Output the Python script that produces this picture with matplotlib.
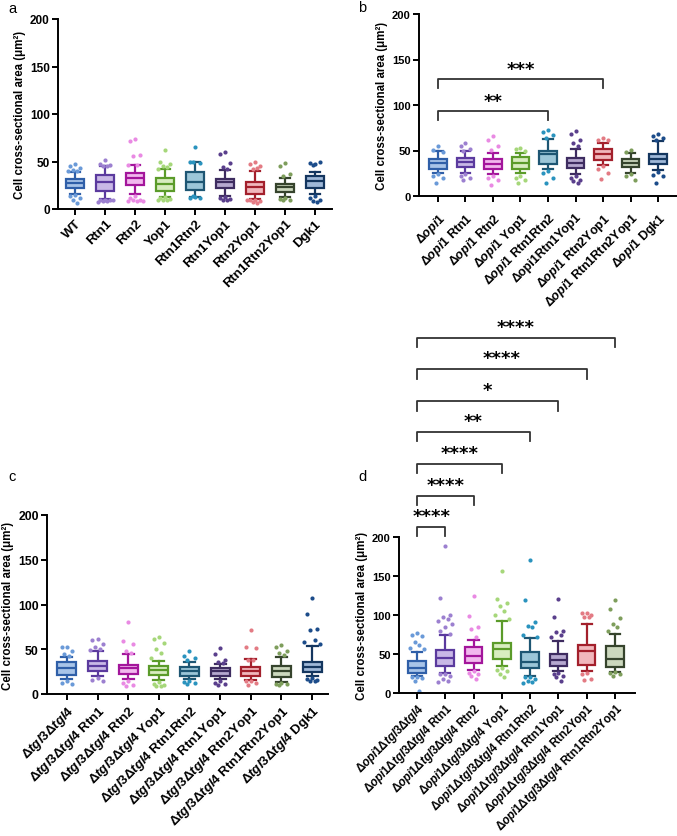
import numpy as np
import matplotlib
matplotlib.use("Agg")
import matplotlib.pyplot as plt

plt.rcParams['font.family'] = ['Liberation Sans', 'DejaVu Sans']
plt.rcParams['mathtext.fontset'] = 'custom'
plt.rcParams['mathtext.rm'] = 'Liberation Sans:bold'
plt.rcParams['mathtext.it'] = 'Liberation Sans:italic:bold'
plt.rcParams['mathtext.bf'] = 'Liberation Sans:bold'

# colours per genotype (edge, fill, dots)
edge = ['#2F5FA8', '#5B3A9E', '#A3169B', '#5B9B2A', '#1E5673', '#3E2C60', '#A3202C', '#36442D', '#14365F']
face = ['#A8C4E8', '#C9B8E6', '#F2B8EE', '#D8EDC0', '#9CC6D8', '#B6A8CF', '#F1B7BC', '#CCD8BE', '#9FB8D8']
dots = ['#6A9AD8', '#9C80D0', '#E98AE3', '#A6D77A', '#2A93BE', '#5A3F8C', '#E37B84', '#7E9E5C', '#1C4C8A']

# ---- panel a
a_labels = ['WT', 'Rtn1', 'Rtn2', 'Yop1', 'Rtn1Rtn2', 'Rtn1Yop1', 'Rtn2Yop1', 'Rtn1Rtn2Yop1', 'Dgk1']
a_q1 = [21.8, 19.3, 25, 19.3, 20.4, 21.8, 15.8, 18.2, 21.8]
a_med = [27, 28, 32.6, 26.3, 28, 28, 23, 23, 30]
a_q3 = [31.6, 35.8, 38, 32.3, 38.6, 32, 28.4, 26.3, 34.4]
a_lo = [15.8, 10.5, 15.8, 13, 13, 14, 11, 13, 16]
a_hi = [38.6, 45.6, 46, 42, 49, 41, 40, 32.6, 39.3]
a_fhi = [[47, 45, 43, 41, 40, 40], [52, 47, 46, 45, 45], [74, 72, 57, 56, 46, 46],
         [62, 49, 47, 45, 44, 42], [65, 50, 48.4, 49], [60, 58, 48, 44, 42],
         [49, 47, 45, 42, 43], [48, 45.6, 37, 35], [47, 48, 49, 46]]
a_flo = [[15, 14, 12, 10, 6], [10, 9, 9, 8, 8, 7, 10], [14, 12, 10, 9, 8, 8, 8],
         [13, 12, 11, 10, 9, 10], [13, 12, 12, 14], [13, 12, 11, 10, 9],
         [10, 9, 8, 7, 6, 9], [12, 11, 10, 10], [14, 12, 10, 8, 7]]

# ---- panel b
b_labels = ['$\\mathit{Δopi1}$', '$\\mathit{Δopi1}$ Rtn1', '$\\mathit{Δopi1}$ Rtn2', '$\\mathit{Δopi1}$ Yop1',
            '$\\mathit{Δopi1}$ Rtn1Rtn2', 'Δopi1Rtn1Yop1', '$\\mathit{Δopi1}$ Rtn2Yop1',
            '$\\mathit{Δopi1}$ Rtn1Rtn2Yop1', '$\\mathit{Δopi1}$ Dgk1']
b_q1 = [30, 32.3, 30, 29.4, 35.6, 30.5, 39.6, 32, 35]
b_med = [36, 37.4, 35, 36.7, 46, 36.7, 46, 36, 41]
b_q3 = [41, 42, 40.4, 43, 49.5, 42, 51.4, 40.4, 46]
b_lo = [25.7, 25.7, 24, 25, 29.4, 24, 33.8, 25.7, 28.6]
b_hi = [49.5, 49.5, 47.7, 47.7, 63, 52, 58.7, 47, 60.5]
b_fhi = [[55, 51, 48], [58, 55, 52, 50], [66, 62, 55, 51], [53, 52, 50],
         [73, 70, 67, 64], [71, 68, 62, 58, 55], [64, 62, 61], [51, 48], [68, 66, 64, 62]]
b_flo = [[24, 22, 20, 14], [24, 22, 20, 18], [22, 20, 18, 12], [22, 20, 18, 14],
         [28, 25, 20, 14], [22, 20, 18, 16, 14], [33, 30, 25, 19], [24, 22, 18], [26, 23, 22, 14]]
b_pairs = [(5, 93.4, '**'), (7, 128.6, '***')]

# ---- panel c
c_labels = ['$\\mathit{Δtgl3Δtgl4}$', '$\\mathit{Δtgl3Δtgl4}$ Rtn1', '$\\mathit{Δtgl3Δtgl4}$ Rtn2',
            '$\\mathit{Δtgl3Δtgl4}$ Yop1', '$\\mathit{Δtgl3Δtgl4}$ Rtn1Rtn2', '$\\mathit{Δtgl3Δtgl4}$ Rtn1Yop1',
            '$\\mathit{Δtgl3Δtgl4}$ Rtn2Yop1', '$\\mathit{Δtgl3Δtgl4}$ Rtn1Rtn2Yop1', '$\\mathit{Δtgl3Δtgl4}$ Dgk1']
c_q1 = [21.2, 26, 22.3, 21.2, 20.5, 20.5, 20.5, 19.4, 24.2]
c_med = [28.7, 31.7, 28.7, 27, 25.3, 25.3, 25.3, 25.3, 30.5]
c_q3 = [35.4, 37, 32.4, 31.7, 29.8, 28.7, 29.8, 31.7, 36]
c_lo = [16.8, 19.7, 16.8, 16, 16.8, 16.8, 16, 13, 19.7]
c_hi = [41, 48.4, 44.7, 37, 35.4, 33.5, 39, 41, 54]
c_fhi = [[53, 52, 48, 45, 43], [62, 60, 56, 52, 50, 49], [80, 59, 56, 48, 46],
         [64, 61, 57, 50, 46, 40], [48, 42, 40, 38], [51, 45, 38, 36, 35],
         [71, 53, 51, 38, 38], [55, 52, 48, 46, 44], [107, 89, 73, 71, 60, 58, 56]]
c_flo = [[14, 12, 11], [18, 16, 15], [15, 12, 10, 9], [13, 11, 10, 9, 9], [14, 13, 12, 11],
         [14, 12, 11, 10], [15, 14, 12, 10], [12, 11, 11, 10], [18, 17, 16, 15, 15]]

# ---- panel d
d_labels = ['$\\mathit{Δopi1Δtgl3Δtgl4}$', '$\\mathit{Δopi1Δtgl3Δtgl4}$ Rtn1', '$\\mathit{Δopi1Δtgl3Δtgl4}$ Rtn2',
            '$\\mathit{Δopi1Δtgl3Δtgl4}$ Yop1', '$\\mathit{Δopi1Δtgl3Δtgl4}$ Rtn1Rtn2',
            '$\\mathit{Δopi1Δtgl3Δtgl4}$ Rtn1Yop1', '$\\mathit{Δopi1Δtgl3Δtgl4}$ Rtn2Yop1',
            '$\\mathit{Δopi1Δtgl3Δtgl4}$ Rtn1Rtn2Yop1']
d_q1 = [25.7, 34.3, 38, 43.7, 31.7, 34.3, 36, 33]
d_med = [32, 44.5, 48, 56.5, 39.4, 42.4, 53.5, 43.7]
d_q3 = [41.5, 55.7, 58.7, 64, 53, 50, 61.7, 60.8]
d_lo = [21.4, 25.7, 29.6, 34.3, 22.3, 27.8, 27.8, 27.4]
d_hi = [53, 74.5, 68.5, 92, 70, 67, 88.6, 76]
d_fhi = [[77, 74, 73, 65, 62, 58, 56], [189, 122, 100, 98, 95, 92, 88, 85, 80, 76],
         [124, 99, 85, 82, 72], [156, 120, 116, 112, 105, 100, 95],
         [171, 119, 91, 86, 84, 75, 72], [120, 97, 80, 78, 74, 72],
         [103, 102, 100, 98, 97], [119, 108, 96, 88, 84, 80]]
d_flo = [[21, 20, 19, 15, 2], [25, 24, 22, 18, 16, 14], [28, 26, 24, 22, 18],
         [32, 30, 28, 24, 21], [21, 20, 18, 16, 14, 13], [26, 24, 22, 20, 16],
         [26, 24, 18, 17], [27, 26, 24, 22]]
d_pairs = [(2, 213, '****'), (3, 253, '****'), (4, 294, '****'), (5, 335, '**'),
           (6, 374, '*'), (7, 415, '****'), (8, 455, '****')]

YLAB = 'Cell cross-sectional area (μm²)'


def spread(vals):
    pat = [0, -0.17, 0.17, -0.08, 0.08, -0.25, 0.25]
    return np.array([pat[i % len(pat)] for i in range(len(vals))])


def panel(ax, labels, q1, med, q3, lo, hi, fhi, flo, xlim, xfs, yfs, xpad=2):
    n = len(labels)
    pos = np.arange(1, n + 1)
    stats = [dict(med=med[i], q1=q1[i], q3=q3[i], whislo=lo[i], whishi=hi[i], fliers=[])
             for i in range(n)]
    art = ax.bxp(stats, positions=pos, widths=0.62, patch_artist=True,
                 showfliers=False, capwidths=0.36)
    for i in range(n):
        art['boxes'][i].set(facecolor=face[i], edgecolor=edge[i], linewidth=1.6, zorder=3)
        art['medians'][i].set(color=edge[i], linewidth=1.6, zorder=4)
        for k in (2 * i, 2 * i + 1):
            art['whiskers'][k].set(color=edge[i], linewidth=1.6)
            art['caps'][k].set(color=edge[i], linewidth=1.6)
        up = np.array(fhi[i])
        dn = np.array(flo[i])
        ax.scatter(pos[i] + spread(up), up, s=9, color=dots[i], linewidths=0, zorder=2)
        ax.scatter(pos[i] + spread(dn), dn, s=9, color=dots[i], linewidths=0, zorder=2)
    ax.set_xlim(*xlim)
    ax.set_ylim(0, 200)
    ax.set_yticks([0, 50, 100, 150, 200])
    ax.set_xticks(pos, labels, rotation=45, ha='right', rotation_mode='anchor',
                  fontsize=xfs, fontweight='bold')
    for t in ax.get_yticklabels():
        t.set_fontweight('bold')
        t.set_fontsize(yfs)
    ax.set_ylabel(YLAB, fontsize=8.3, fontweight='bold', labelpad=3)
    ax.spines['top'].set_visible(False)
    ax.spines['right'].set_visible(False)
    for s in ('left', 'bottom'):
        ax.spines[s].set_linewidth(1.4)
    ax.tick_params(width=1.4, length=4, pad=2)
    ax.tick_params(axis='x', pad=xpad)


def brackets(ax, pairs, drop, gap):
    for j, y, star in pairs:
        ax.plot([1, 1, j, j], [y - drop, y, y, y - drop], color='#333333', lw=1.3,
                clip_on=False)
        ax.text((1 + j) / 2, y + gap, star, ha='center', va='center', fontsize=13,
                fontweight='bold', family='DejaVu Sans', clip_on=False)


fig = plt.figure(figsize=(6.77, 8.37), dpi=100)
W, H = 677, 837


def add_ax(x0, x1, ytop, ybot):
    return fig.add_axes([x0 / W, 1 - ybot / H, (x1 - x0) / W, (ybot - ytop) / H])


ax_a = add_ax(58, 332, 20, 210)
panel(ax_a, a_labels, a_q1, a_med, a_q3, a_lo, a_hi, a_fhi, a_flo, (0.43, 9.57), 9.5, 8.5)

ax_b = add_ax(419, 677, 15, 197)
panel(ax_b, b_labels, b_q1, b_med, b_q3, b_lo, b_hi, b_fhi, b_flo, (0.31, 9.69), 9, 8, xpad=6)
brackets(ax_b, b_pairs, 10, 11)

ax_c = add_ax(47, 328, 516, 695)
panel(ax_c, c_labels, c_q1, c_med, c_q3, c_lo, c_hi, c_fhi, c_flo, (0.35, 9.52), 9.5, 8.8)

ax_d = add_ax(399, 635, 538, 694)
panel(ax_d, d_labels, d_q1, d_med, d_q3, d_lo, d_hi, d_fhi, d_flo, (0.364, 8.71), 8.3, 8, xpad=1)
brackets(ax_d, d_pairs, 12, 14)

fig.text(8 / W, 1 - 9 / H, 'a', fontsize=10.5, va='center')
fig.text(358 / W, 1 - 8 / H, 'b', fontsize=10.5, va='center')
fig.text(8 / W, 1 - 477 / H, 'c', fontsize=10.5, va='center')
fig.text(358 / W, 1 - 477 / H, 'd', fontsize=10.5, va='center')

fig.savefig('out.png', dpi=100)
